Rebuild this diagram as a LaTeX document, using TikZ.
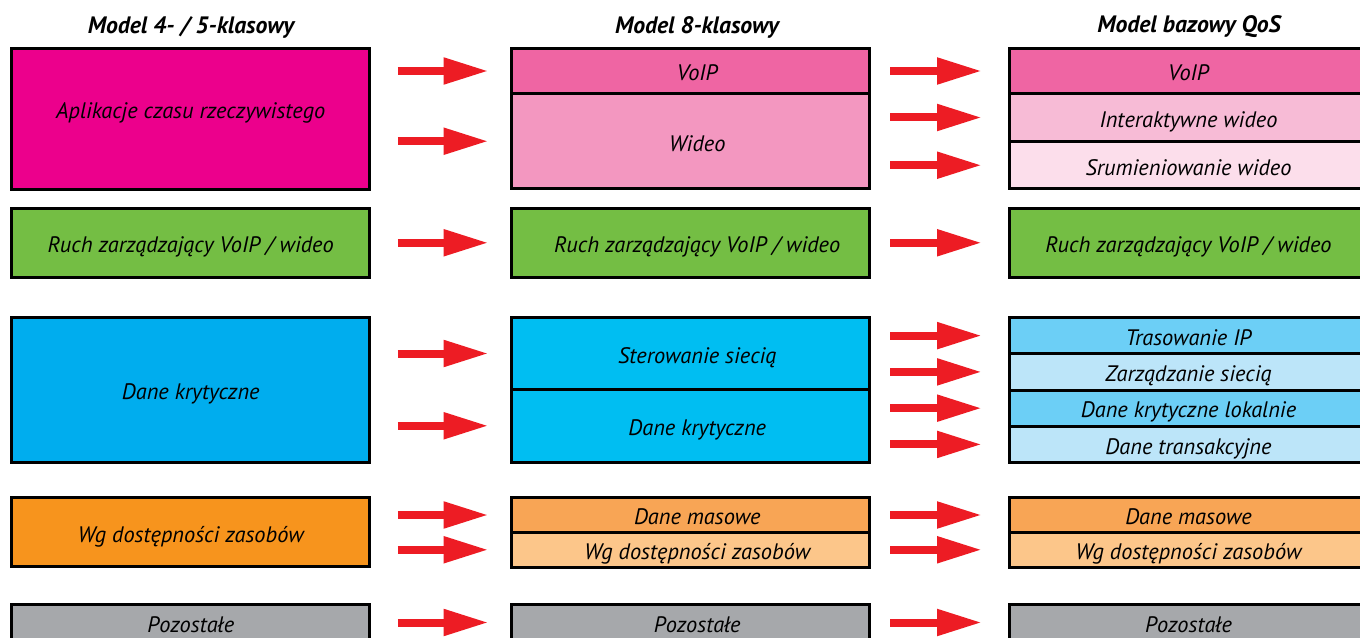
\documentclass[tikz,border=0pt]{standalone}
\usepackage{fontspec}
\setmainfont{PT Sans}
\usetikzlibrary{arrows.meta,positioning}

\definecolor{rtpink}{HTML}{EC008C}
\definecolor{voippink}{HTML}{EF65A3}
\definecolor{vidpink}{HTML}{F397C0}
\definecolor{intpink}{HTML}{F7BBD6}
\definecolor{strpink}{HTML}{FCDEEB}
\definecolor{ctrlgreen}{HTML}{74BE44}
\definecolor{critblue}{HTML}{00ADEE}
\definecolor{netblue}{HTML}{00BEF2}
\definecolor{ipblue}{HTML}{6CCFF6}
\definecolor{paleblue}{HTML}{BCE5F9}
\definecolor{bulkorange}{HTML}{F7941D}
\definecolor{massorange}{HTML}{F8A555}
\definecolor{paleorange}{HTML}{FCC68A}
\definecolor{restgray}{HTML}{A6A8AB}
\definecolor{arrowred}{HTML}{ED1C24}

\begin{document}
\begin{tikzpicture}[x=0.75pt, y=-0.75pt,
    node distance=0pt,
    box/.style={draw, line width=2.25pt, outer sep=0pt, inner sep=0pt, anchor=north,
                minimum width=268.5pt, text height=14.7pt, text depth=0pt,
                font=\fontsize{16.8}{19}\selectfont\itshape},
    midbox/.style={box, execute at begin node={\hskip 10.5pt}},
    head/.style={font=\fontsize{17.8}{20}\selectfont\bfseries\itshape},
    arr/.style={draw=arrowred, line width=6pt,
                -{Triangle[length=33.75pt, width=18.75pt]}}]
  \path[use as bounding box, fill=white] (0,0) rectangle (1360,638);

  % headings
  \node[head] (h4) at (191,27) {Model 4- / 5-klasowy};
  \node[head] (h8) at (697,27) {Model 8-klasowy};
  \node[head] (hq) at (1189,27) {Model bazowy QoS};

  % model 4/5
  \node[box, fill=rtpink, minimum height=105.4pt, text height=8pt, text depth=8pt] (rt) at (190.75,48.5) {Aplikacje czasu rzeczywistego};
  \node[box, fill=ctrlgreen, minimum height=51.4pt] (ctrl) at (190.75,208.5) {Ruch zarządzający VoIP / wideo};
  \node[box, fill=critblue, minimum height=108.4pt] (crit) at (190.75,317.5) {Dane krytyczne};
  \node[box, fill=bulkorange, minimum height=52.1pt] (bulk) at (190.75,497.5) {Wg dostępności zasobów};
  \node[box, fill=restgray, minimum height=27pt] (rest) at (190.75,604.5) {Pozostałe};

  % model 8
  \node[midbox, fill=voippink, minimum height=33.75pt] (voip8) at (690.25,48.5) {VoIP};
  \node[midbox, fill=vidpink, minimum height=71.6pt, below=of voip8] (vid8) {Wideo};
  \node[midbox, fill=ctrlgreen, minimum height=51.4pt] (ctrl8) at (690.25,208.5) {Ruch zarządzający VoIP / wideo};
  \node[midbox, fill=netblue, minimum height=54pt] (net8) at (690.25,317.5) {Sterowanie siecią};
  \node[midbox, fill=netblue, minimum height=54.4pt, below=of net8] (crit8) {Dane krytyczne};
  \node[midbox, fill=massorange, minimum height=26.25pt] (mass8) at (690.25,497.5) {Dane masowe};
  \node[midbox, fill=paleorange, minimum height=25.9pt, below=of mass8] (avail8) {Wg dostępności zasobów};
  \node[midbox, fill=restgray, minimum height=27pt] (rest8) at (690.25,604.5) {Pozostałe};

  % model bazowy QoS
  \node[box, fill=voippink, minimum height=33.75pt] (voipq) at (1188.5,48.5) {VoIP};
  \node[box, fill=intpink, minimum height=36pt, below=of voipq] (intq) {Interaktywne wideo};
  \node[box, fill=strpink, minimum height=35.6pt, below=of intq] (strq) {Srumieniowanie wideo};
  \node[box, fill=ctrlgreen, minimum height=51.4pt] (ctrlq) at (1188.5,208.5) {Ruch zarządzający VoIP / wideo};
  \node[box, fill=ipblue, minimum height=27.2pt] (ipq) at (1188.5,317.5) {Trasowanie IP};
  \node[box, fill=paleblue, minimum height=27.2pt, below=of ipq] (mgmtq) {Zarządzanie siecią};
  \node[box, fill=ipblue, minimum height=27.2pt, below=of mgmtq] (localq) {Dane krytyczne lokalnie};
  \node[box, fill=paleblue, minimum height=27.2pt, below=of localq] (transq) {Dane transakcyjne};
  \node[box, fill=massorange, minimum height=26.25pt] (massq) at (1188.5,497.5) {Dane masowe};
  \node[box, fill=paleorange, minimum height=25.9pt, below=of massq] (availq) {Wg dostępności zasobów};
  \node[box, fill=restgray, minimum height=27pt] (restq) at (1188.5,604.5) {Pozostałe};

  % arrows into model 8
  \foreach \t in {voip8,vid8,ctrl8,net8,crit8,mass8,avail8,rest8}
    \draw[arr] ([xshift=-85pt]\t.west) -- ([xshift=-17pt]\t.west);
  % arrows into model bazowy
  \foreach \t in {voipq,intq,strq,ctrlq,ipq,mgmtq,localq,transq,massq,availq,restq}
    \draw[arr] ([xshift=-89.6pt]\t.west) -- ([xshift=-20.6pt]\t.west);
\end{tikzpicture}
\end{document}
